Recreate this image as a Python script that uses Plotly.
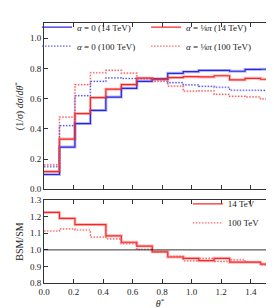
import numpy as np
import plotly.graph_objects as go

# bin edges in theta* (15 bins from 0 to pi/2)
edges = np.linspace(0, np.pi / 2, 16)

sm_14 = [0.098, 0.279, 0.435, 0.522, 0.610, 0.668, 0.714, 0.731, 0.767, 0.778, 0.786, 0.786, 0.781, 0.793, 0.794]
bsm_14 = [0.117, 0.332, 0.501, 0.607, 0.662, 0.693, 0.735, 0.727, 0.739, 0.745, 0.743, 0.751, 0.724, 0.734, 0.728]
sm_100 = [0.149, 0.421, 0.619, 0.714, 0.737, 0.733, 0.732, 0.725, 0.705, 0.691, 0.681, 0.675, 0.655, 0.655, 0.654]
bsm_100 = [0.162, 0.478, 0.692, 0.771, 0.787, 0.768, 0.736, 0.713, 0.683, 0.649, 0.651, 0.628, 0.615, 0.611, 0.598]

ratio_14 = [1.226, 1.190, 1.153, 1.153, 1.085, 1.046, 1.023, 0.988, 0.957, 0.949, 0.935, 0.949, 0.926, 0.926, 0.914]
ratio_100 = [1.114, 1.127, 1.120, 1.077, 1.067, 1.037, 1.003, 0.990, 0.961, 0.934, 0.949, 0.930, 0.940, 0.926, 0.910]

labels_top = ["<i>α</i> = 0 (14 TeV)", "<i>α</i> = ⅛<i>π</i> (14 TeV)",
              "<i>α</i> = 0 (100 TeV)", "<i>α</i> = ⅛<i>π</i> (100 TeV)"]
labels_bot = ["14 TeV", "100 TeV"]

BLUE = "rgb(40,40,225)"
RED = "rgb(245,40,40)"
BLUE_L = "rgba(60,60,230,0.35)"
RED_L = "rgba(245,60,60,0.35)"
BLUE_D = "rgba(80,80,235,0.9)"
RED_D = "rgba(245,80,80,0.85)"
BLUE_DL = "rgba(60,60,230,0.2)"
RED_DL = "rgba(245,60,60,0.2)"
DOT = "1.5px,1.5px"

def step(v):
    return list(v) + [v[-1]]

fig = go.Figure()

top_series = [
    (sm_14, labels_top[0], BLUE, BLUE_L, "solid", 3, "legend"),
    (sm_100, labels_top[2], BLUE_D, BLUE_DL, DOT, 2.4, "legend"),
    (bsm_14, labels_top[1], RED, RED_L, "solid", 3, "legend3"),
    (bsm_100, labels_top[3], RED_D, RED_DL, DOT, 2.4, "legend3"),
]
# light underlays
for vals, name, col, lcol, dash, lw, lg in top_series:
    fig.add_trace(go.Scatter(x=edges, y=step(vals), mode="lines", line_shape="hv",
                             line=dict(color=lcol, width=lw, dash=dash),
                             showlegend=False, hoverinfo="skip", xaxis="x", yaxis="y"))
for vals, name, col, lcol, dash, lw, lg in top_series:
    fig.add_trace(go.Scatter(x=edges, y=step(vals), mode="lines", line_shape="hv",
                             line=dict(color=col, width=1.2, dash=dash),
                             name=name, legend=lg, xaxis="x", yaxis="y"))

bot_series = [
    (ratio_14, labels_bot[0], RED, RED_L, "solid", 3),
    (ratio_100, labels_bot[1], RED_D, RED_DL, DOT, 2.4),
]
for vals, name, col, lcol, dash, lw in bot_series:
    fig.add_trace(go.Scatter(x=edges, y=step(vals), mode="lines", line_shape="hv",
                             line=dict(color=lcol, width=lw, dash=dash),
                             showlegend=False, hoverinfo="skip", xaxis="x2", yaxis="y2"))
for vals, name, col, lcol, dash, lw in bot_series:
    fig.add_trace(go.Scatter(x=edges, y=step(vals), mode="lines", line_shape="hv",
                             line=dict(color=col, width=1.2, dash=dash),
                             name=name, legend="legend2", xaxis="x2", yaxis="y2"))

fig.add_shape(type="line", x0=0, x1=1, xref="x2 domain", y0=1.0, y1=1.0, yref="y2",
              line=dict(color="black", width=0.8))

FONT = "Liberation Serif"
axcommon = dict(showline=True, linecolor="#333", linewidth=1, mirror="ticks", ticks="inside",
                ticklen=4, tickcolor="#333", showgrid=False, zeroline=False,
                tickfont=dict(family=FONT, size=9, color="#222"))
legcommon = dict(orientation="v", xanchor="left", yanchor="top", tracegroupgap=0,
                 traceorder="normal",
                 font=dict(family=FONT, size=9, color="#222"), bgcolor="rgba(0,0,0,0)",
                 itemwidth=30)

fig.update_layout(
    width=274, height=308,
    margin=dict(l=36, r=6, t=5, b=33),
    paper_bgcolor="white", plot_bgcolor="white",
    font=dict(family=FONT, color="#222"),
    xaxis=dict(domain=[0, 1], range=[0, np.pi / 2], anchor="y", showticklabels=False,
               dtick=0.2, tick0=0, **axcommon),
    yaxis=dict(domain=[0.3604, 1], range=[0, 1.1], dtick=0.2, tick0=0, tickformat=".1f",
               title=dict(text="(1/<i>σ</i>) <i>dσ</i>/<i>dθ</i><sup>*</sup>", standoff=4,
                          font=dict(family=FONT, size=10)), **axcommon),
    xaxis2=dict(domain=[0, 1], range=[0, np.pi / 2], anchor="y2", dtick=0.2, tick0=0,
                tickformat=".1f",
                title=dict(text="<i>θ</i><sup>*</sup>", standoff=2, font=dict(family=FONT, size=10)),
                **axcommon),
    yaxis2=dict(domain=[0, 0.3185], range=[0.8, 1.3], dtick=0.1, tick0=0.8, tickformat=".1f",
                title=dict(text="BSM/SM", standoff=4, font=dict(family=FONT, size=10)),
                **axcommon),
    legend=dict(x=-0.03, y=1.04, **legcommon),
    legend3=dict(x=0.44, y=1.04, **legcommon),
    legend2=dict(x=0.62, y=0.36, **legcommon),
)

fig.write_html("out.html")
